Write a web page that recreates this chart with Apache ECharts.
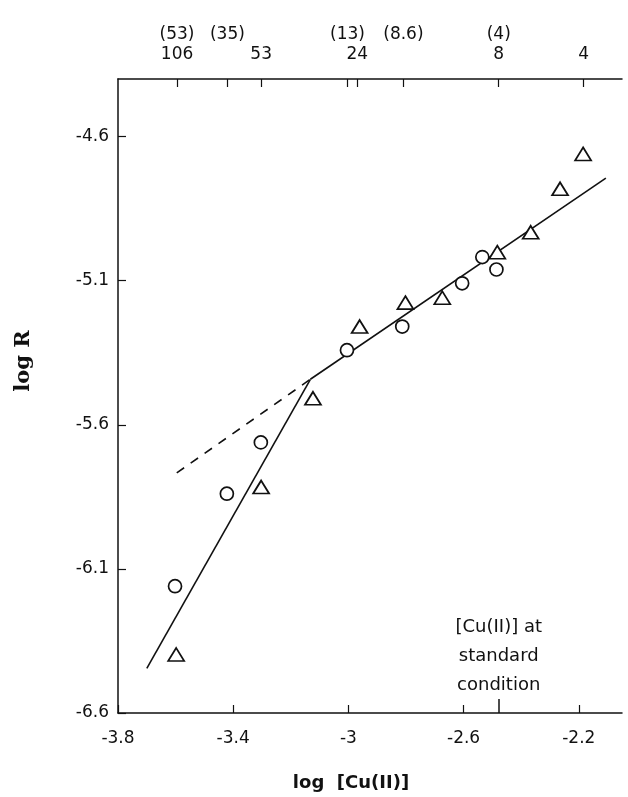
<!DOCTYPE html>
<html>
<head>
<meta charset="utf-8">
<script src="https://cdn.jsdelivr.net/npm/echarts@6/dist/echarts.min.js"></script>
<style>html,body{margin:0;padding:0;background:#fff}#c{width:628px;height:797px}</style>
</head>
<body>
<div id="c"></div>
<script>
// ---- data ----
var circleX = [-3.602, -3.422, -3.304, -3.005, -2.813, -2.605, -2.535, -2.486];
var circleY = [-6.160, -5.839, -5.661, -5.341, -5.259, -5.109, -5.018, -5.061];
var triangleX = [-3.598, -3.303, -3.123, -2.961, -2.802, -2.674, -2.483, -2.367, -2.265, -2.185];
var triangleY = [-6.397, -5.816, -5.508, -5.259, -5.176, -5.159, -5.001, -4.932, -4.781, -4.660];
var steepLineX = [-3.700, -3.132];
var steepLineY = [-6.445, -5.442];
var shallowLineX = [-3.132, -2.106];
var shallowLineY = [-5.442, -4.744];
var dashLineX = [-3.596, -3.132];
var dashLineY = [-5.767, -5.442];
var xTicks = [-3.8, -3.4, -3, -2.6, -2.2];
var yTicks = [-6.6, -6.1, -5.6, -5.1, -4.6];
var topTickValues = [-3.595, -3.42, -3.303, -3.003, -2.969, -2.809, -2.478, -2.183];
var topInnerValues = [-3.595, -3.303, -2.969, -2.478, -2.183];
var topInnerLabels = ['106', '53', '24', '8', '4'];
var topOuterValues = [-3.595, -3.42, -3.003, -2.809, -2.478];
var topOuterLabels = ['(53)', '(35)', '(13)', '(8.6)', '(4)'];
var standardCondition = -2.478;
var noteText = '[Cu(II)] at\nstandard\ncondition';
var noteY = -6.403;

function zip(a, b) { return a.map(function (v, i) { return [v, b[i]]; }); }
function lookup(vals, labels) {
  return function (v) {
    for (var i = 0; i < vals.length; i++) if (Math.abs(vals[i] - v) < 1e-6) return labels[i];
    return '';
  };
}

var FONT = 'DejaVu Sans';
var INK = '#111';
var XMIN = -3.8, XMAX = -2.05, YMIN = -6.6, YMAX = -4.4;

var chart = echarts.init(document.getElementById('c'), null, { renderer: 'canvas' });
chart.setOption({
  backgroundColor: '#fff',
  animation: false,
  grid: { left: 118, top: 79, right: 6, bottom: 83 },
  xAxis: [
    {
      type: 'value', position: 'bottom', min: XMIN, max: XMAX,
      name: 'log  [Cu(II)]', nameLocation: 'middle', nameGap: 61,
      nameTextStyle: { fontFamily: FONT, fontWeight: 'bold', fontSize: 18, color: INK, padding: [0, 38, 0, 0] },
      axisLine: { show: true, onZero: false, lineStyle: { color: INK, width: 1.5 } },
      axisTick: { show: true, inside: true, length: 8, customValues: xTicks, lineStyle: { color: INK, width: 1.2 } },
      axisLabel: { show: true, customValues: xTicks, margin: 17, fontFamily: FONT, fontSize: 17, color: INK,
        formatter: function (v) { return String(v); } },
      splitLine: { show: false }
    },
    {
      type: 'value', position: 'top', min: XMIN, max: XMAX,
      axisLine: { show: true, onZero: false, lineStyle: { color: INK, width: 1.5 } },
      axisTick: { show: true, inside: true, length: 8, customValues: topTickValues, lineStyle: { color: INK, width: 1.2 } },
      axisLabel: { show: true, customValues: topInnerValues, margin: 16, fontFamily: FONT, fontSize: 17, color: INK,
        formatter: lookup(topInnerValues, topInnerLabels) },
      splitLine: { show: false }
    },
    {
      type: 'value', position: 'top', min: XMIN, max: XMAX,
      axisLine: { show: false },
      axisTick: { show: false },
      axisLabel: { show: true, customValues: topOuterValues, margin: 36, fontFamily: FONT, fontSize: 17, color: INK,
        formatter: lookup(topOuterValues, topOuterLabels) },
      splitLine: { show: false }
    },
    {
      type: 'value', position: 'bottom', min: XMIN, max: XMAX,
      axisLine: { show: false },
      axisTick: { show: true, inside: true, length: 14, customValues: [standardCondition], lineStyle: { color: INK, width: 1.5 } },
      axisLabel: { show: false },
      splitLine: { show: false }
    }
  ],
  yAxis: {
    type: 'value', min: YMIN, max: YMAX,
    name: 'log R', nameLocation: 'middle', nameGap: 84, nameRotate: 90,
    nameTextStyle: { fontFamily: 'DejaVu Serif', fontWeight: 'bold', fontSize: 21, color: INK, padding: [0, 0, 0, 70] },
    axisLine: { show: true, onZero: false, lineStyle: { color: INK, width: 1.5 } },
    axisTick: { show: true, inside: true, length: 8, customValues: yTicks, lineStyle: { color: INK, width: 1.2 } },
    axisLabel: { show: true, customValues: yTicks, margin: 9, fontFamily: FONT, fontSize: 17, color: INK,
      formatter: function (v) { return v.toFixed(1); } },
    splitLine: { show: false }
  },
  series: [
    { type: 'line', data: zip(steepLineX, steepLineY), showSymbol: false, symbol: 'none',
      lineStyle: { color: INK, width: 1.6 }, z: 2 },
    { type: 'line', data: zip(shallowLineX, shallowLineY), showSymbol: false, symbol: 'none',
      lineStyle: { color: INK, width: 1.6 }, z: 2 },
    { type: 'line', data: zip(dashLineX, dashLineY), showSymbol: false, symbol: 'none',
      lineStyle: { color: INK, width: 1.6, type: [9, 8] }, z: 2 },
    { type: 'scatter', data: zip(circleX, circleY), symbol: 'circle', symbolSize: 13,
      itemStyle: { color: '#fff', borderColor: INK, borderWidth: 1.7, opacity: 1 }, z: 3 },
    { type: 'scatter', data: zip(triangleX, triangleY), symbol: 'triangle', symbolSize: [16, 13],
      itemStyle: { color: '#fff', borderColor: INK, borderWidth: 1.7, opacity: 1 }, z: 3 },
    { type: 'scatter', data: [[standardCondition, noteY]], symbolSize: 0, silent: true,
      itemStyle: { opacity: 1 },
      label: { show: true, position: 'inside', formatter: noteText, fontFamily: FONT, fontSize: 18,
        lineHeight: 29, color: INK, opacity: 1, align: 'center', verticalAlign: 'middle' }, z: 4 }
  ]
});
</script>
</body>
</html>
